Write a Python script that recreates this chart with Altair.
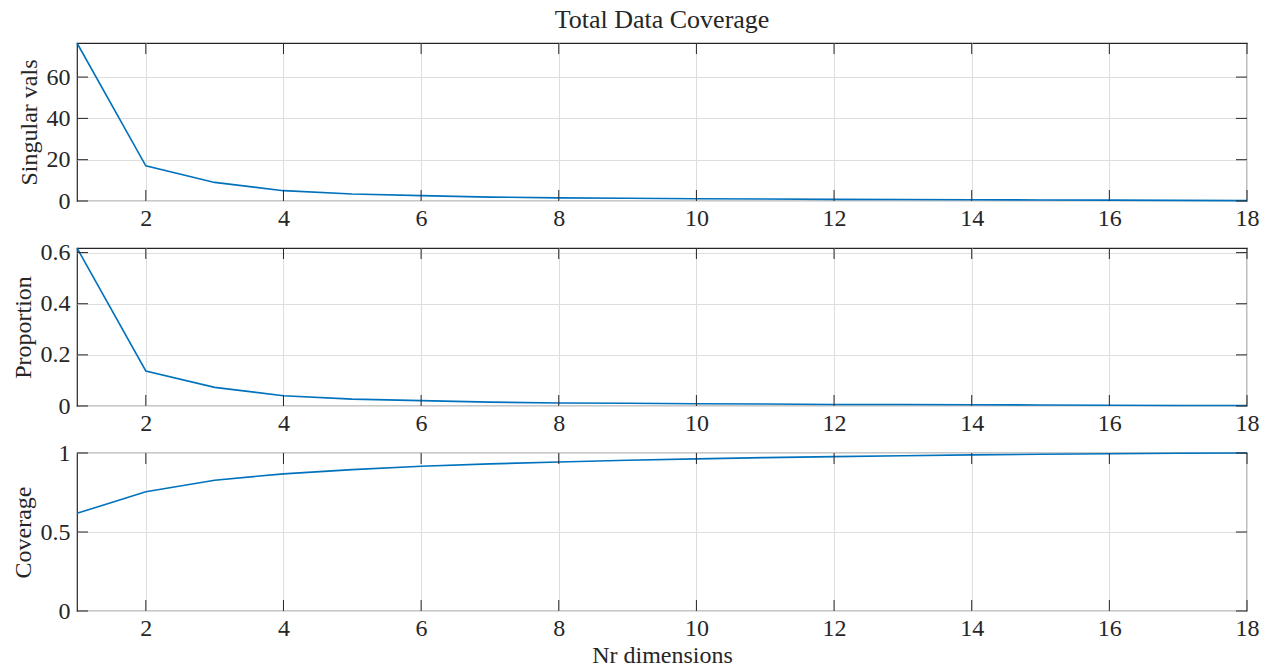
import altair as alt
import pandas as pd

# ---- data ----
dims = list(range(1, 19))
singular_vals = [76.5, 17.0, 9.0, 5.0, 3.4, 2.6, 1.9, 1.5, 1.3, 1.1, 0.95, 0.8, 0.7, 0.6, 0.5, 0.4, 0.3, 0.2]
proportion = [0.618, 0.137, 0.073, 0.040, 0.027, 0.021, 0.015, 0.012, 0.011, 0.009, 0.008, 0.006, 0.006, 0.005, 0.004, 0.003, 0.002, 0.002]
coverage = [0.618, 0.755, 0.828, 0.868, 0.895, 0.916, 0.931, 0.943, 0.954, 0.963, 0.971, 0.977, 0.983, 0.988, 0.992, 0.995, 0.998, 1.0]

x_ticks = [2, 4, 6, 8, 10, 12, 14, 16, 18]
sv_ticks = [0, 20, 40, 60]
prop_ticks = [0, 0.2, 0.4, 0.6]
cov_ticks = [0, 0.5, 1]

# ---- style ----
W, H = 1170, 158
TICK = 11
FONT = "Liberation Serif"
FS = 24
BLUE = "#0072BD"
INK = "#262626"
GRID = "#dedede"


def panel(values, yticks, ytitle, ydomain, xtitle=None, title=None):
    df = pd.DataFrame({"x": dims, "y": values})
    xscale = alt.Scale(domain=[1, 18], nice=False, zero=False)
    yscale = alt.Scale(domain=ydomain, nice=False, zero=False)
    xaxis_kw = dict(values=x_ticks, grid=True, format="~r", labelFlush=False,
                    labelOverlap=False, labelPadding=5, titlePadding=3)
    xaxis = alt.Axis(title=xtitle, **xaxis_kw) if xtitle else alt.Axis(title=None, **xaxis_kw)
    yaxis = alt.Axis(values=yticks, grid=True, format="~r", title=ytitle,
                     labelPadding=7, titlePadding=5, labelOverlap=False)

    line = alt.Chart(df).mark_line(color=BLUE, strokeWidth=1.6).encode(
        x=alt.X("x:Q", scale=xscale, axis=xaxis),
        y=alt.Y("y:Q", scale=yscale, axis=yaxis),
    )
    xt = pd.DataFrame({"x": x_ticks})
    yt = pd.DataFrame({"y": yticks})
    rule = dict(color=INK, strokeWidth=1)
    bottom = alt.Chart(xt).mark_rule(**rule).encode(
        x=alt.X("x:Q", scale=xscale, axis=xaxis), y=alt.value(H), y2=alt.value(H - TICK))
    top = alt.Chart(xt).mark_rule(**rule).encode(
        x=alt.X("x:Q", scale=xscale, axis=xaxis), y=alt.value(0), y2=alt.value(TICK))
    left = alt.Chart(yt).mark_rule(**rule).encode(
        y=alt.Y("y:Q", scale=yscale, axis=yaxis), x=alt.value(0), x2=alt.value(TICK))
    right = alt.Chart(yt).mark_rule(**rule).encode(
        y=alt.Y("y:Q", scale=yscale, axis=yaxis), x=alt.value(W - TICK), x2=alt.value(W))
    props = dict(width=W, height=H)
    if title:
        props["title"] = alt.TitleParams(title, font=FONT, fontSize=26, fontWeight="normal",
                                         color=INK, anchor="middle", frame="group",
                                         baseline="bottom", offset=-19)
    return alt.layer(line, bottom, top, left, right).properties(**props)


p1 = panel(singular_vals, sv_ticks, "Singular vals", [0, 76.5], title="Total Data Coverage")
p2 = panel(proportion, prop_ticks, "Proportion", [0, 0.618])
p3 = panel(coverage, cov_ticks, "Coverage", [0, 1], xtitle="Nr dimensions")

chart = alt.vconcat(p1, p2, p3, spacing=47, bounds="flush").properties(
    padding={"left": 10, "top": 6, "right": 4, "bottom": 0},
    background="white",
).configure_view(
    stroke=INK, strokeWidth=1.2
).configure_axis(
    domain=False, ticks=False,
    labelFont=FONT, labelFontSize=FS, labelColor=INK,
    titleFont=FONT, titleFontSize=FS, titleColor=INK, titleFontWeight="normal",
    gridColor=GRID, gridWidth=1,
)

chart.save("out.html", embed_options={"renderer": "svg", "actions": False})
